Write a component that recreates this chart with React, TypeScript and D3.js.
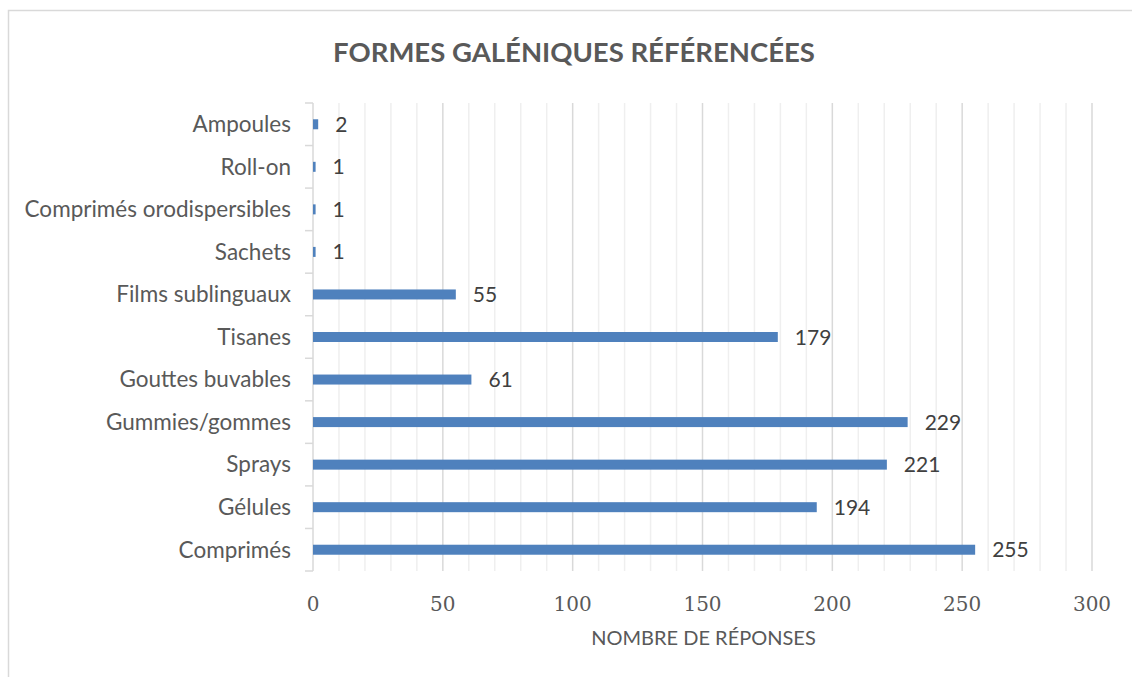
import React from "react";
import * as d3 from "d3";

const categories = [
  "Ampoules",
  "Roll-on",
  "Comprimés orodispersibles",
  "Sachets",
  "Films sublinguaux",
  "Tisanes",
  "Gouttes buvables",
  "Gummies/gommes",
  "Sprays",
  "Gélules",
  "Comprimés",
];
const values = [2, 1, 1, 1, 55, 179, 61, 229, 221, 194, 255];
const xTicks = [0, 50, 100, 150, 200, 250, 300];
const minorTicks = d3.range(0, 301, 10);
const title = "FORMES GALÉNIQUES RÉFÉRENCÉES";
const xTitle = "NOMBRE DE RÉPONSES";

const W = 1132;
const H = 677;
const plot = { left: 313, right: 1092, top: 103, bottom: 571 };

export default function App() {
  const x = d3.scaleLinear().domain([0, 300]).range([plot.left, plot.right]);
  const y = d3
    .scaleBand<string>()
    .domain(categories)
    .range([plot.top, plot.bottom])
    .paddingInner(0)
    .paddingOuter(0);
  const bw = y.bandwidth();
  const barH = bw * 0.235;
  const sans = "Lato, 'Open Sans', sans-serif";
  const boundaries = d3.range(0, categories.length + 1).map((i) => plot.top + i * bw);

  return (
    <svg
      width={W}
      height={H}
      style={{ position: "absolute", left: 0, top: 0, background: "#fff" }}
    >
      <rect x={0} y={0} width={W} height={H} fill="#fff" />
      <rect
        x={8.5}
        y={10.5}
        width={W + 20}
        height={H + 20}
        fill="none"
        stroke="#d9d9d9"
        strokeWidth={1.5}
      />
      <text
        x={574}
        y={62}
        textAnchor="middle"
        fontFamily={sans}
        fontWeight="bold"
        fontSize={27.5}
        fill="#595959"
      >
        {title}
      </text>
      {minorTicks
        .filter((t) => t % 50 !== 0)
        .map((t) => (
          <line
            key={"m" + t}
            x1={x(t)}
            x2={x(t)}
            y1={plot.top}
            y2={plot.bottom}
            stroke="#efefef"
            strokeWidth={1.5}
          />
        ))}
      {xTicks
        .filter((t) => t !== 0)
        .map((t) => (
          <line
            key={"g" + t}
            x1={x(t)}
            x2={x(t)}
            y1={plot.top}
            y2={plot.bottom}
            stroke="#d9d9d9"
            strokeWidth={1.5}
          />
        ))}
      <line
        x1={plot.left}
        x2={plot.left}
        y1={plot.top}
        y2={plot.bottom}
        stroke="#d9d9d9"
        strokeWidth={1.5}
      />
      {boundaries.map((b, i) => (
        <line
          key={"t" + i}
          x1={plot.left - 8}
          x2={plot.left}
          y1={b}
          y2={b}
          stroke="#d9d9d9"
          strokeWidth={1.5}
        />
      ))}
      {categories.map((c, i) => {
        const cy = (y(c) as number) + bw / 2;
        return (
          <g key={c}>
            <rect
              x={x(0)}
              y={cy - barH / 2}
              width={x(values[i]) - x(0)}
              height={barH}
              fill="#4f81bd"
            />
            <text
              x={291}
              y={cy + 7.8}
              textAnchor="end"
              fontFamily={sans}
              fontSize={22.5}
              fill="#595959"
            >
              {c}
            </text>
            <text
              x={x(values[i]) + 17}
              y={cy + 7.5}
              fontFamily={sans}
              fontSize={21}
              fill="#404040"
            >
              {values[i]}
            </text>
          </g>
        );
      })}
      {xTicks.map((t) => (
        <text
          key={"l" + t}
          x={x(t)}
          y={611}
          textAnchor="middle"
          fontFamily="'DejaVu Serif', serif"
          fontSize={20}
          fill="#595959"
        >
          {t}
        </text>
      ))}
      <text
        x={(plot.left + plot.right) / 2 + 1}
        y={645}
        textAnchor="middle"
        fontFamily={sans}
        fontSize={20}
        fill="#595959"
      >
        {xTitle}
      </text>
    </svg>
  );
}
